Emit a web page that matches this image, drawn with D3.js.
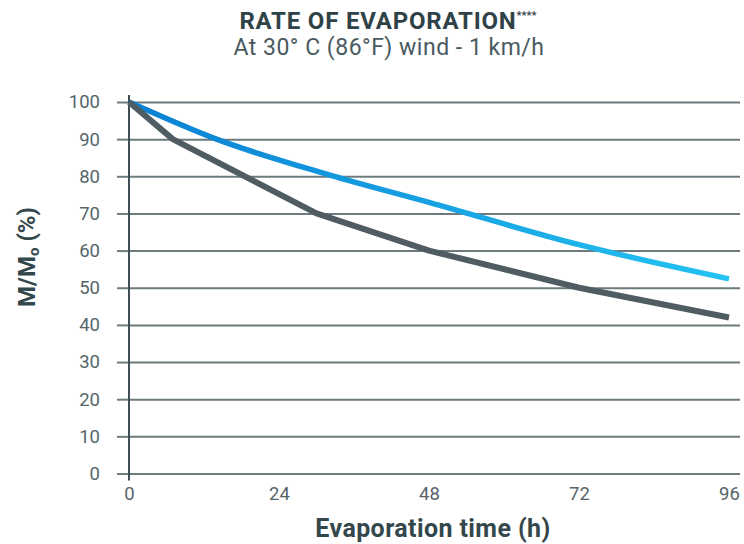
<!DOCTYPE html>
<html>
<head>
<meta charset="utf-8">
<script src="https://cdn.jsdelivr.net/npm/d3@7"></script>
<style>
  body { margin: 0; background: #fff; }
  svg { font-family: Roboto, sans-serif; }
</style>
</head>
<body>
<svg id="container"></svg>
<script>
const width = 744;
const height = 544;
const margin = ({top: 102, right: 15, bottom: 70.5, left: 129});

// data
const hours = [0, 24, 48, 72, 96];
const yTicks = [0, 10, 20, 30, 40, 50, 60, 70, 80, 90, 100];
const darkTime = [0, 7, 30, 48, 72, 96];
const darkValue = [100, 90, 70, 60, 50, 42];
const blueTime = [0, 14, 32, 48, 72, 96];
const blueValue = [100, 90, 80.4, 73, 61.6, 52.4];

const x = d3.scaleLinear().domain([0, 96]).range([margin.left, 729]);
const y = d3.scaleLinear().domain([0, 100]).range([height - margin.bottom, margin.top]);

const svg = d3.select("#container")
    .attr("width", width)
    .attr("height", height)
    .attr("viewBox", [0, 0, width, height]);

const defs = svg.append("defs");
const grad = defs.append("linearGradient")
    .attr("id", "blueGrad")
    .attr("gradientUnits", "userSpaceOnUse")
    .attr("x1", x(0)).attr("x2", x(96))
    .attr("y1", 0).attr("y2", 0);
grad.append("stop").attr("offset", "0%").attr("stop-color", "#0a80d2");
grad.append("stop").attr("offset", "100%").attr("stop-color", "#24c3f2");

// title
svg.append("text")
    .attr("x", 388).attr("y", 29)
    .attr("text-anchor", "middle")
    .attr("fill", "#2f4247")
    .attr("font-size", 24)
    .attr("font-weight", "bold")
    .attr("letter-spacing", 0.8)
    .text("RATE OF EVAPORATION")
    .append("tspan")
    .attr("font-size", 11)
    .attr("letter-spacing", 0)
    .attr("dy", -10)
    .text("****");

svg.append("text")
    .attr("x", 389).attr("y", 55)
    .attr("text-anchor", "middle")
    .attr("fill", "#4a5a60")
    .attr("font-size", 23)
    .attr("letter-spacing", 0.5)
    .text("At 30° C (86°F) wind - 1 km/h");

// y grid + tick labels
const yAxis = g => g
    .attr("transform", `translate(${margin.left},0)`)
    .call(d3.axisLeft(y)
        .tickValues(yTicks)
        .tickSize(12)
        .tickPadding(17))
    .call(g => g.select(".domain").remove())
    .call(g => g.selectAll(".tick line")
        .attr("stroke", "#6d7b7e")
        .attr("stroke-width", 2))
    .call(g => g.selectAll(".tick line").clone()
        .attr("x1", 0)
        .attr("x2", 740 - margin.left))
    .call(g => g.selectAll(".tick text")
        .attr("font-size", 18.5)
        .attr("font-family", "Roboto, sans-serif")
        .attr("fill", "#55656a"));

svg.append("g").call(yAxis);

// x tick labels
const xAxis = g => g
    .attr("transform", `translate(0,${height - margin.bottom})`)
    .call(d3.axisBottom(x)
        .tickValues(hours)
        .tickSize(0)
        .tickPadding(13))
    .call(g => g.select(".domain").remove())
    .call(g => g.selectAll(".tick text")
        .attr("font-size", 18.5)
        .attr("font-family", "Roboto, sans-serif")
        .attr("fill", "#55656a"));

svg.append("g").call(xAxis);

// vertical axis line
svg.append("line")
    .attr("x1", x(0)).attr("x2", x(0))
    .attr("y1", y(100) - 7).attr("y2", y(0) + 7)
    .attr("stroke", "#3e4d52")
    .attr("stroke-width", 2);

// lines
const line = d3.line()
    .x(d => x(d[0]))
    .y(d => y(d[1]));

const darkData = darkTime.map((t, i) => [t, darkValue[i]]);
const blueData = blueTime.map((t, i) => [t, blueValue[i]]);

svg.append("path")
    .datum(blueData)
    .attr("fill", "none")
    .attr("stroke", "url(#blueGrad)")
    .attr("stroke-width", 5.5)
    .attr("stroke-linejoin", "round")
    .attr("d", line.curve(d3.curveMonotoneX));

svg.append("path")
    .datum(darkData)
    .attr("fill", "none")
    .attr("stroke", "#4f5c61")
    .attr("stroke-width", 6)
    .attr("stroke-linejoin", "round")
    .attr("d", line.curve(d3.curveLinear));

// axis titles
svg.append("text")
    .attr("x", 433).attr("y", 537)
    .attr("text-anchor", "middle")
    .attr("fill", "#34474c")
    .attr("font-size", 25)
    .attr("font-weight", "bold")
    .attr("letter-spacing", 0.4)
    .text("Evaporation time (h)");

const yl = svg.append("text")
    .attr("transform", "translate(35,257) rotate(-90)")
    .attr("text-anchor", "middle")
    .attr("fill", "#34474c")
    .attr("font-size", 24)
    .attr("font-weight", "bold");
yl.append("tspan").text("M/M");
yl.append("tspan").attr("font-size", 15).attr("dy", 4).text("o");
yl.append("tspan").attr("dy", -4).text(" (%)");
</script>
</body>
</html>
